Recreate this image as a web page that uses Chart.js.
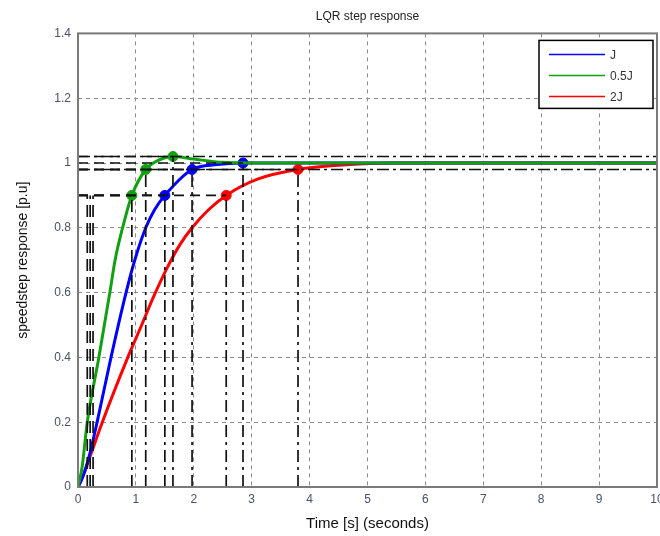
<!DOCTYPE html>
<html>
<head>
<meta charset="utf-8">
<script src="https://cdn.jsdelivr.net/npm/chart.js@4/dist/chart.umd.min.js"></script>
<style>
html, body { margin: 0; padding: 0; background: #fff; }
#wrap { width: 660px; height: 536px; }
</style>
</head>
<body>
<div id="wrap"><canvas id="chart"></canvas></div>
<script>
// Step responses
const seriesLabels = ['J', '0.5J', '2J'];

const timeJ = [0, 0.08, 0.2, 0.33, 0.57, 0.83, 0.98, 1.17, 1.32, 1.5, 1.97, 2.4, 2.85, 4, 10];
const respJ = [0, 0.03, 0.1, 0.2, 0.4, 0.6, 0.7, 0.8, 0.855, 0.9, 0.98, 0.995, 1, 1, 1];

const timeHalfJ = [0, 0.07, 0.16, 0.36, 0.55, 0.64, 0.77, 0.93, 1.17, 1.35, 1.64, 2.0, 2.5, 3, 10];
const respHalfJ = [0, 0.06, 0.2, 0.4, 0.6, 0.7, 0.8, 0.9, 0.98, 1.005, 1.02, 1.012, 1.002, 1.0, 1];

const time2J = [0, 0.1, 0.22, 0.42, 0.86, 1.1, 1.3, 1.55, 1.75, 1.97, 2.25, 2.56, 3.1, 3.8, 4.5, 5.5, 10];
const resp2J = [0, 0.04, 0.1, 0.2, 0.4, 0.5, 0.585, 0.68, 0.745, 0.8, 0.855, 0.9, 0.95, 0.98, 0.993, 1, 1];

// characteristic points (rise end, settling, peak)
const markTimeJ = [1.5, 1.97, 2.85];
const markRespJ = [0.9, 0.98, 1.0];
const markTimeHalfJ = [0.93, 1.17, 1.64];
const markRespHalfJ = [0.9, 0.98, 1.02];
const markTime2J = [2.56, 3.8];
const markResp2J = [0.9, 0.98];

// rise start guide lines and settling band
const riseStartTimes = [0.16, 0.21, 0.26];
const riseTopLevel = 0.9;
const settleBand = [0.98, 1.02];

const xTicks = [0, 1, 2, 3, 4, 5, 6, 7, 8, 9, 10];
const yTicks = [0, 0.2, 0.4, 0.6, 0.8, 1, 1.2, 1.4];

const colors = ['#0000ff', '#10a010', '#ff0000'];
const FONT = '"Liberation Sans", Arial, sans-serif';

const pts = (xs, ys) => xs.map((x, i) => ({ x: x, y: ys[i] }));

function guide(points, dash) {
    return {
        data: points, borderColor: '#111', borderWidth: 1.7, borderDash: dash,
        pointRadius: 0, fill: false, tension: 0
    };
}

const datasets = [];

// black guide lines
settleBand.forEach(v => datasets.push(guide([{ x: xTicks[0], y: v }, { x: xTicks[xTicks.length - 1], y: v }], [12, 4, 3, 4])));
riseStartTimes.forEach(t => datasets.push(guide([{ x: t, y: 0 }, { x: t, y: riseTopLevel }], [12, 6])));
[[markTimeJ, markRespJ], [markTimeHalfJ, markRespHalfJ], [markTime2J, markResp2J]].forEach(([ts, vs]) => {
    ts.forEach((t, i) => {
        datasets.push(guide([{ x: t, y: 0 }, { x: t, y: vs[i] }], [12, 5, 3, 5]));
        datasets.push(guide([{ x: 0, y: vs[i] }, { x: t, y: vs[i] }], [10, 6]));
    });
});

// curves
const curves = [[timeJ, respJ], [timeHalfJ, respHalfJ], [time2J, resp2J]];
[1, 0, 2].forEach(k => {
    datasets.push({
        label: seriesLabels[k], data: pts(curves[k][0], curves[k][1]),
        borderColor: colors[k], borderWidth: 3, pointRadius: 0,
        cubicInterpolationMode: 'monotone', fill: false, legendIndex: k
    });
});

// markers
const marks = [[markTimeJ, markRespJ], [markTimeHalfJ, markRespHalfJ], [markTime2J, markResp2J]];
marks.forEach((m, k) => {
    datasets.push({
        data: pts(m[0], m[1]), showLine: false, pointRadius: 5,
        pointBackgroundColor: colors[k], pointBorderColor: colors[k]
    });
});

// frame + legend box inside the plot
const framePlugin = {
    id: 'frame',
    afterDraw(chart) {
        const { ctx, chartArea: a } = chart;
        ctx.save();
        ctx.strokeStyle = '#7a7a7a';
        ctx.lineWidth = 2;
        ctx.strokeRect(a.left, a.top, a.right - a.left, a.bottom - a.top);

        const items = chart.data.datasets.filter(d => d.legendIndex !== undefined)
            .sort((p, q) => p.legendIndex - q.legendIndex);
        const bx = a.right - 118, by = a.top + 7, bw = 114, bh = 68;
        ctx.fillStyle = '#fff';
        ctx.fillRect(bx, by, bw, bh);
        ctx.strokeStyle = '#000';
        ctx.lineWidth = 1.5;
        ctx.strokeRect(bx, by, bw, bh);
        ctx.font = '12px ' + FONT;
        ctx.textBaseline = 'middle';
        items.forEach((d, i) => {
            const y = by + 14 + i * 21;
            ctx.strokeStyle = d.borderColor;
            ctx.lineWidth = 1.5;
            ctx.beginPath();
            ctx.moveTo(bx + 10, y);
            ctx.lineTo(bx + 66, y);
            ctx.stroke();
            ctx.fillStyle = '#333';
            ctx.fillText(d.label, bx + 71, y + 1);
        });
        ctx.restore();
    }
};

new Chart(document.getElementById('chart'), {
    type: 'line',
    data: { datasets: datasets },
    plugins: [framePlugin],
    options: {
        responsive: true,
        maintainAspectRatio: false,
        animation: false,
        layout: { autoPadding: false, padding: { left: 0, right: 3, top: 0, bottom: 0 } },
        plugins: {
            legend: { display: false },
            tooltip: { enabled: false },
            title: {
                display: true, text: 'LQR step response', fullSize: false,
                color: '#222', font: { family: FONT, size: 12, weight: 'normal' },
                padding: { top: 9, bottom: 10 }
            }
        },
        scales: {
            x: {
                type: 'linear', min: 0, max: 10,
                afterFit: s => { s.height = 49; s.paddingRight = 0; s.paddingLeft = 0; },
                afterBuildTicks: s => { s.ticks = xTicks.map(v => ({ value: v })); },
                ticks: { color: '#4a5068', padding: 5, font: { family: FONT, size: 12 } },
                grid: { color: '#8c8c8c', lineWidth: 1, drawTicks: false },
                border: { display: false, dash: [4, 4] },
                title: {
                    display: true, text: 'Time [s] (seconds)', color: '#111',
                    font: { family: FONT, size: 15 }, padding: { top: 4, bottom: 3 }
                }
            },
            y: {
                type: 'linear', min: 0, max: 1.4,
                afterFit: s => { s.width = 78; s.paddingTop = 0; s.paddingBottom = 0; },
                afterBuildTicks: s => { s.ticks = yTicks.map(v => ({ value: v })); },
                ticks: {
                    color: '#4a5068', padding: 7, font: { family: FONT, size: 12 },
                    callback: v => String(Math.round(v * 10) / 10)
                },
                grid: { color: '#8c8c8c', lineWidth: 1, drawTicks: false },
                border: { display: false, dash: [4, 4] },
                title: {
                    display: true, text: 'speedstep response [p.u]', color: '#111',
                    font: { family: FONT, size: 14 }, padding: { top: 15, bottom: 4 }
                }
            }
        }
    }
});
</script>
</body>
</html>
